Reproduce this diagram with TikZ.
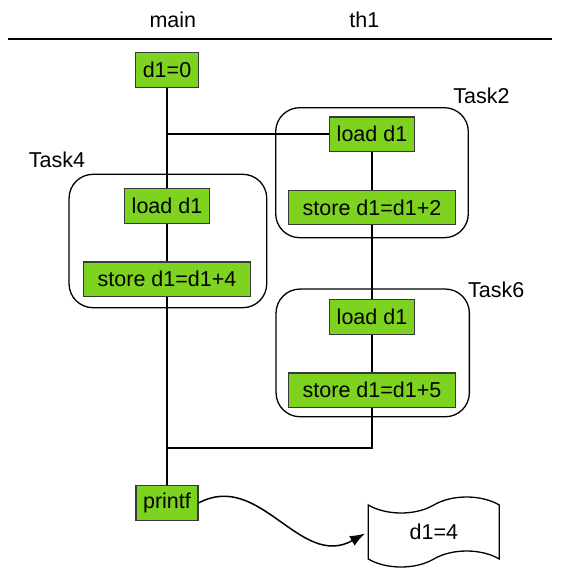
\documentclass[tikz,border=0pt]{standalone}
\usepackage{fontspec}
\setmainfont{Liberation Sans}
\usetikzlibrary{positioning}
\usetikzlibrary{shapes.symbols}
\usetikzlibrary{arrows.meta}
\definecolor{opgreen}{HTML}{7ED321}
\definecolor{opline}{HTML}{36393D}
\tikzset{node distance=37.5pt,
every node/.style={font=\fontsize{21.5}{25}\selectfont},
op/.style={ % Green box for one operation
draw=opline,
fill=opgreen,
line width=1.3pt,
minimum height=34.5pt,
inner xsep=7pt, inner ysep=0pt},
store/.style={op, minimum width=167pt}, % Wider box for the stores
task/.style={ % Rounded frame round one task
draw,
line width=1.3pt,
rounded corners=24pt},
flow/.style={line width=1.5pt}}

\begin{document}
\begin{tikzpicture}[x=1pt,y=-1pt]
\useasboundingbox (0,0) rectangle (562,580);
% thread heads
\node (main) at (172.8,20) {main};
\node (th1) at (364.3,20) {th1};
\coordinate (ruleL) at (8,39);
\coordinate (ruleR) at (552,39);
\draw[line width=1.8pt] (ruleL) -- (ruleR);
% task frames
\node[task, minimum width=192.6pt, minimum height=130pt] (task2) at (372,172.7) {};
\node[task, minimum width=197.7pt, minimum height=133.4pt] (task4) at (167.9,241) {};
\node[task, minimum width=193.3pt, minimum height=127.7pt] (task6) at (372.7,352.9) {};
\node (lab2) at ([xshift=12.4pt,yshift=11.7pt]task2.north east) {Task2};
\node (lab4) at ([xshift=-11.5pt,yshift=13.6pt]task4.north west) {Task4};
\node (lab6) at ([xshift=26.2pt,yshift=-1.7pt]task6.north east) {Task6};
% operations
\node[op] (init) at (167,70) {d1=0};
\node[op] (load4) at (167,206) {load d1};
\node[store, below=of load4] (store4) {store d1=d1+4};
\node[op] (printf) at (167,503) {printf};
\node[op] (load2) at (372,134.2) {load d1};
\node[store, below=of load2] (store2) {store d1=d1+2};
\node[op] (load6) at (372,317) {load d1};
\node[store, below=of load6] (store6) {store d1=d1+5};
\node[draw, shape=tape, line width=1.3pt, tape bend height=16pt,
  minimum width=131pt, minimum height=70pt] (result) at (433.8,532) {d1=4};
\coordinate (merge) at (167,448);
% main thread
\draw[flow] (init.south) -- (load4.north);
\draw[flow] (load4.south) -- (store4.north);
\draw[flow] (store4.south) -- (printf.north);
\draw[flow] (load2.west) -- (load2.west -| init.south);
% th1 thread
\draw[flow] (load2.south) -- (store2.north);
\draw[flow] (store2.south) -- (load6.north);
\draw[flow] (load6.south) -- (store6.north);
\draw[flow] (store6.south) |- (merge);
% output
\draw[flow, -{Latex[length=15pt,width=11pt]}, shorten >=3pt] (printf.east)
  .. controls (260,470) and (300,570) .. (result.west);
\end{tikzpicture}
\end{document}
